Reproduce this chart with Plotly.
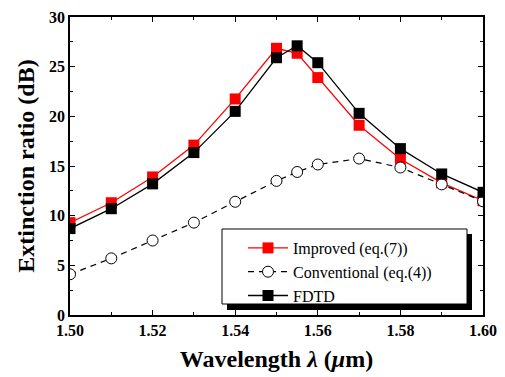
import plotly.graph_objects as go

wavelength = [1.50, 1.51, 1.52, 1.53, 1.54, 1.55, 1.555, 1.56, 1.57, 1.58, 1.59, 1.60]
improved = [9.3, 11.3, 13.9, 17.1, 21.75, 26.85, 26.35, 23.9, 19.1, 15.7, 13.3, 11.5]
conventional = [4.1, 5.7, 7.5, 9.3, 11.4, 13.5, 14.4, 15.15, 15.75, 14.85, 13.15, 11.45]
fdtd = [8.7, 10.7, 13.2, 16.35, 20.5, 25.9, 27.1, 25.4, 20.3, 16.75, 14.2, 12.35]

x_ticks = [1.50, 1.52, 1.54, 1.56, 1.58, 1.60]
x_ticklabels = ["1.50", "1.52", "1.54", "1.56", "1.58", "1.60"]
y_ticks = [0, 5, 10, 15, 20, 25, 30]

FONT = "Liberation Serif"

# page has an 8px body margin; figure is sized so the plot lands at target pixels
OFF = 8
T = 9
PL, PR, PB = 70, 483, 315
PT = OFF + T
PW, PH = PR - PL, PB - PT


def px(sx):
    return (sx - PL) / PW


def py(sy):
    return (PB - sy) / PH


fig = go.Figure()
fig.add_trace(go.Scatter(
    x=wavelength, y=improved, name="Improved (eq.(7))", mode="lines+markers",
    line=dict(color="#ff0000", width=1.3),
    marker=dict(symbol="square", size=11, color="#ff0000", line=dict(width=0))))
fig.add_trace(go.Scatter(
    x=wavelength, y=conventional, name="Conventional (eq.(4))", mode="lines+markers",
    line=dict(color="black", width=1.2, dash="6px,5px"),
    marker=dict(symbol="circle", size=11, color="white", line=dict(color="black", width=1))))
fig.add_trace(go.Scatter(
    x=wavelength, y=fdtd, name="FDTD", mode="lines+markers",
    line=dict(color="black", width=1.3),
    marker=dict(symbol="square", size=11, color="black", line=dict(width=0))))

# legend shadow + box
fig.add_shape(type="rect", xref="paper", yref="paper",
              x0=px(227), x1=px(472), y0=py(310), y1=py(234),
              fillcolor="black", line=dict(width=0), layer="above")
fig.add_shape(type="rect", xref="paper", yref="paper",
              x0=px(222), x1=px(467), y0=py(304), y1=py(229),
              fillcolor="white", line=dict(color="black", width=1), layer="above")

fig.update_layout(
    width=505 - OFF, height=377 - OFF,
    margin=dict(l=PL - OFF, r=505 - PR, t=T, b=377 - PB, autoexpand=False),
    paper_bgcolor="white", plot_bgcolor="white",
    font=dict(family=FONT, color="black"),
    showlegend=True,
    legend=dict(x=px(243), y=py(231), xanchor="left", yanchor="top",
                bgcolor="rgba(0,0,0,0)", borderwidth=0,
                font=dict(family=FONT, size=16, color="black"),
                tracegroupgap=0, itemwidth=40),
    xaxis=dict(
        range=[1.50, 1.60], tickvals=x_ticks, ticktext=x_ticklabels,
        ticks="inside", ticklen=5, tickwidth=1, tickcolor="black",
        showline=True, linecolor="black", linewidth=1.5, mirror="ticks",
        showgrid=False, zeroline=False, automargin=False, ticklabeloverflow="allow",
        minor=dict(dtick=0.01, tick0=1.50, ticks="inside", ticklen=3, tickcolor="black"),
        tickfont=dict(family=FONT, size=16, weight="bold"),
        title=dict(text="Wavelength <i>λ</i> (<i>μ</i>m)", standoff=12,
                   font=dict(family=FONT, size=24, weight="bold")),
    ),
    yaxis=dict(
        range=[0, 30], tickvals=y_ticks,
        ticks="inside", ticklen=5, tickwidth=1, tickcolor="black",
        showline=True, linecolor="black", linewidth=1.5, mirror="ticks",
        showgrid=False, zeroline=False, automargin=False, ticklabeloverflow="allow",
        minor=dict(dtick=2.5, tick0=0, ticks="inside", ticklen=3, tickcolor="black"),
        tickfont=dict(family=FONT, size=16, weight="bold"),
        title=dict(text="Extinction ratio (dB)", standoff=8,
                   font=dict(family=FONT, size=24, weight="bold")),
    ),
)

fig.write_html("out.html")
